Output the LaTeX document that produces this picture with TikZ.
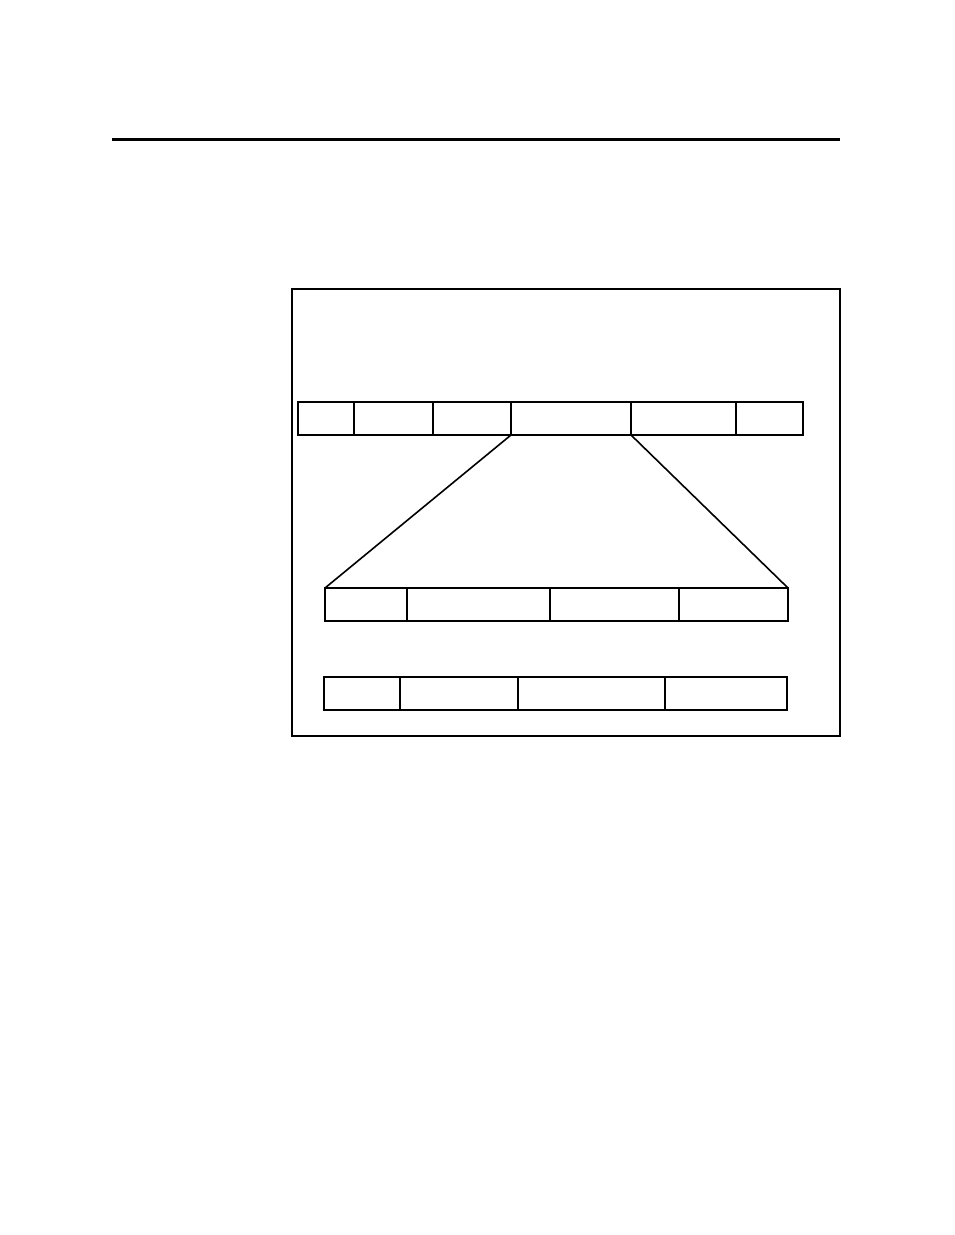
\documentclass[tikz,border=0pt]{standalone}
\usetikzlibrary{positioning}
\begin{document}
\begin{tikzpicture}[x=0.5pt,y=-0.5pt,
            cell/.style = {draw,
                line width = 1pt,
                minimum height = 16.5pt,
                inner sep = 0pt,
                outer sep = 0pt,
                }]
        \useasboundingbox (0,0) rectangle (954,1235);

        % Rule
        \draw[line width=1.5pt] (112,140) -- (840,140);

        % Frame
        \draw[line width=1pt] (292,289) rectangle (840,736);

        % Frame row
        \node[cell,minimum width=28pt,anchor=north west] (m1) at (298,402) {};
        \node[cell,minimum width=39.5pt,right=0pt of m1] (m2) {};
        \node[cell,minimum width=39pt,right=0pt of m2] (m3) {};
        \node[cell,minimum width=60pt,right=0pt of m3] (m4) {};
        \node[cell,minimum width=52.5pt,right=0pt of m4] (m5) {};
        \node[cell,minimum width=33.5pt,right=0pt of m5] (m6) {};

        % Expanded field
        \node[cell,minimum width=41pt,anchor=north west] (n1) at (325,588) {};
        \node[cell,minimum width=71.5pt,right=0pt of n1] (n2) {};
        \node[cell,minimum width=64.5pt,right=0pt of n2] (n3) {};
        \node[cell,minimum width=54.5pt,right=0pt of n3] (n4) {};

        % Second layout
        \node[cell,minimum width=38pt,anchor=north west] (p1) at (324,677) {};
        \node[cell,minimum width=59pt,right=0pt of p1] (p2) {};
        \node[cell,minimum width=73.5pt,right=0pt of p2] (p3) {};
        \node[cell,minimum width=61pt,right=0pt of p3] (p4) {};

        % Expansion lines
        \draw[line width=0.8pt] (m4.south west) -- (n1.north west);
        \draw[line width=0.8pt] (m4.south east) -- (n4.north east);

        \end{tikzpicture}
\end{document}
